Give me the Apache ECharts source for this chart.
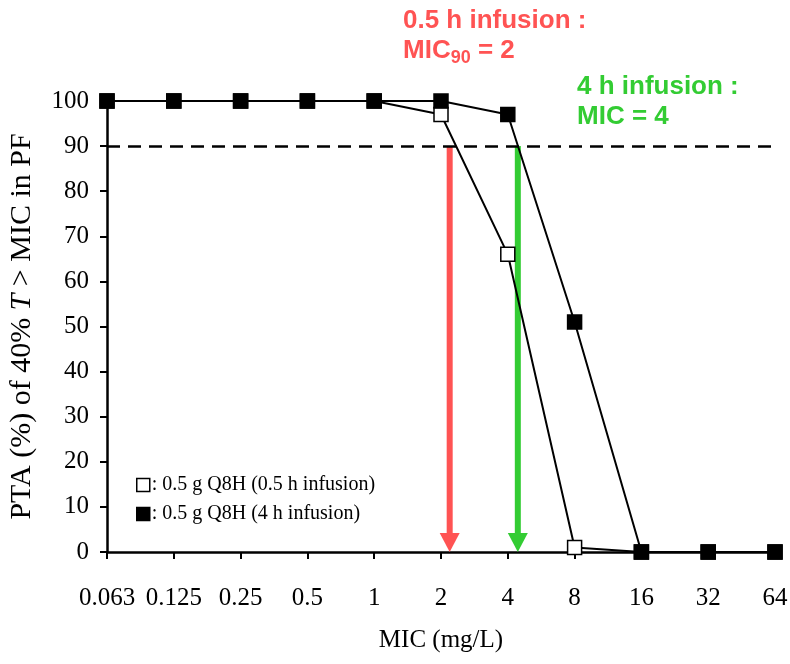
<!DOCTYPE html>
<html>
<head>
<meta charset="utf-8">
<script src="https://cdn.jsdelivr.net/npm/echarts@6/dist/echarts.min.js"></script>
<style>
  html, body { margin: 0; padding: 0; background: #fff; }
  #chart { width: 790px; height: 664px; }
</style>
</head>
<body>
<div id="chart"></div>
<script>
// MIC values on the x axis (doubling dilutions, evenly spaced)
const micLabels = ['0.063', '0.125', '0.25', '0.5', '1', '2', '4', '8', '16', '32', '64'];

// Probability of target attainment (%) for 40% T > MIC in PF
const ptaShortInfusion = [100, 100, 100, 100, 100, 97, 66, 1, 0, 0, 0];   // 0.5 g Q8H, 0.5 h infusion
const ptaLongInfusion  = [100, 100, 100, 100, 100, 100, 97, 51, 0, 0, 0]; // 0.5 g Q8H, 4 h infusion

// Target line and the MIC positions (in category steps) where each regimen drops to it
const targetPta = 90;
const cutoffMic = [5.13, 6.15];

const seriesNames = ['0.5 g Q8H (0.5 h infusion)', '0.5 g Q8H (4 h infusion)'];

const RED = '#ff5353';
const GREEN = '#33cc33';
const SERIF = '"Liberation Serif", "Times New Roman", serif';
const SANS = '"Liberation Sans", Arial, sans-serif';

const toPoints = arr => arr.map((v, i) => [i, v]);

const chart = echarts.init(document.getElementById('chart'), null, { renderer: 'canvas' });

chart.setOption({
  backgroundColor: '#fff',
  animation: false,
  grid: { left: 107, right: 15, top: 101, bottom: 112, containLabel: false, outerBoundsMode: 'none' },
  legend: {
    orient: 'vertical',
    left: 131,
    top: 470,
    itemWidth: 13,
    itemHeight: 13,
    itemGap: 9,
    icon: 'rect',
    formatter: name => ': ' + name,
    textStyle: { fontFamily: SERIF, fontSize: 20, color: '#000', padding: [0, 0, 0, -3] },
    data: [
      { name: seriesNames[0], itemStyle: { color: '#fff', borderColor: '#000', borderWidth: 1.5 } },
      { name: seriesNames[1], itemStyle: { color: '#000', borderColor: '#000', borderWidth: 1.5 } }
    ]
  },
  xAxis: {
    type: 'value',
    min: 0,
    max: micLabels.length - 1,
    interval: 1,
    name: 'MIC (mg/L)',
    nameLocation: 'middle',
    nameGap: 76,
    nameTextStyle: { fontFamily: SERIF, fontSize: 25, color: '#000' },
    axisLine: { lineStyle: { color: '#000', width: 2.5 } },
    axisTick: { length: 7, lineStyle: { color: '#000', width: 2 } },
    axisLabel: {
      margin: 34,
      fontFamily: SERIF,
      fontSize: 25,
      color: '#000',
      formatter: v => (Number.isInteger(v) ? micLabels[v] : '')
    },
    splitLine: { show: false }
  },
  yAxis: {
    type: 'value',
    min: 0,
    max: 100,
    interval: 10,
    name: 'PTA (%) of 40% {i|T} > MIC in PF',
    nameLocation: 'middle',
    nameGap: 70,
    nameTextStyle: {
      fontFamily: SERIF,
      fontSize: 30,
      color: '#000',
      rich: { i: { fontFamily: SERIF, fontSize: 30, fontStyle: 'italic', color: '#000' } }
    },
    axisLine: { show: true, lineStyle: { color: '#000', width: 2.5 } },
    axisTick: { show: true, length: 7, lineStyle: { color: '#000', width: 2 } },
    axisLabel: { margin: 18, fontFamily: SERIF, fontSize: 25, color: '#000' },
    splitLine: { show: false }
  },
  series: [
    {
      name: seriesNames[0],
      type: 'line',
      data: toPoints(ptaShortInfusion),
      symbol: 'rect',
      symbolSize: 14,
      showAllSymbol: true,
      lineStyle: { color: '#000', width: 2 },
      itemStyle: { color: '#fff', borderColor: '#000', borderWidth: 1.5 },
      z: 3,
      markLine: {
        silent: true,
        symbol: ['none', 'none'],
        label: { show: false },
        lineStyle: { color: '#000', width: 2.5, type: [13, 8] },
        data: [{ yAxis: targetPta }]
      }
    },
    {
      name: seriesNames[1],
      type: 'line',
      data: toPoints(ptaLongInfusion),
      symbol: 'rect',
      symbolSize: 14,
      showAllSymbol: true,
      lineStyle: { color: '#000', width: 2 },
      itemStyle: { color: '#000', borderColor: '#000', borderWidth: 1.5 },
      z: 4
    },
    {
      // Arrows dropping from the 90 % target down to the MIC axis
      name: 'cutoffArrows',
      type: 'custom',
      coordinateSystem: 'cartesian2d',
      silent: true,
      z: 2,
      data: cutoffMic.map((x, i) => [x, targetPta, i]),
      renderItem: (params, api) => {
        const color = api.value(2) === 0 ? RED : GREEN;
        const top = api.coord([api.value(0), api.value(1)]);
        const tip = api.coord([api.value(0), 0]);
        const headH = 19, headW = 10;
        return {
          type: 'group',
          children: [
            {
              type: 'line',
              shape: { x1: top[0], y1: top[1], x2: tip[0], y2: tip[1] - headH + 1 },
              style: { stroke: color, lineWidth: 6 }
            },
            {
              type: 'polygon',
              shape: { points: [[tip[0] - headW, tip[1] - headH], [tip[0] + headW, tip[1] - headH], [tip[0], tip[1]]] },
              style: { fill: color }
            }
          ]
        };
      }
    }
  ],
  graphic: [
    {
      type: 'text',
      left: 403,
      top: 6,
      style: {
        text: '0.5 h infusion :\nMIC{sub|90} = 2',
        fill: RED,
        font: 'bold 26px ' + SANS,
        lineHeight: 30,
        rich: {
          sub: { fill: RED, fontFamily: SANS, fontWeight: 'bold', fontSize: 18, padding: [14, 0, 0, 0], lineHeight: 30 }
        }
      }
    },
    {
      type: 'text',
      left: 577,
      top: 72,
      style: {
        text: '4 h infusion :\nMIC = 4',
        fill: GREEN,
        font: 'bold 26px ' + SANS,
        lineHeight: 30
      }
    }
  ]
});
</script>
</body>
</html>
